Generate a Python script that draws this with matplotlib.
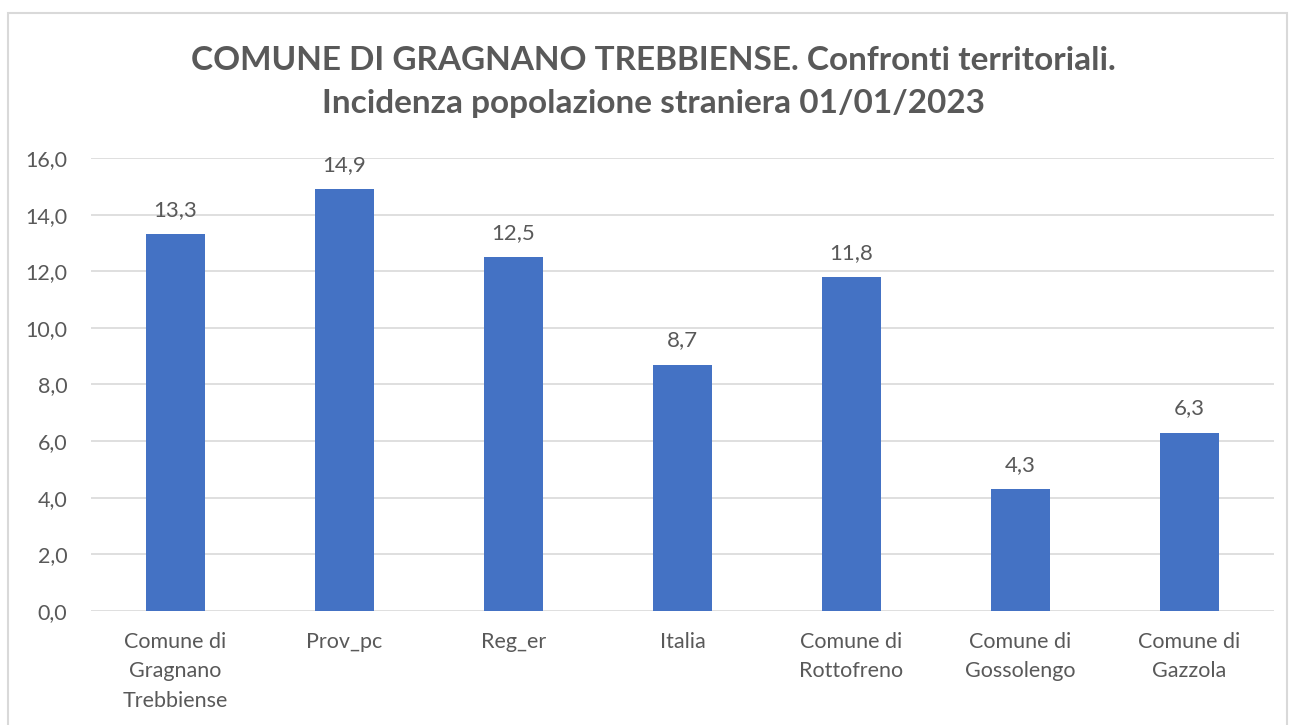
import numpy as np
import matplotlib.pyplot as plt
from matplotlib.patches import Rectangle

plt.rcParams['font.family'] = ['Lato', 'DejaVu Sans']

# dati
categorie = ["Comune di\nGragnano\nTrebbiense", "Prov_pc", "Reg_er", "Italia",
             "Comune di\nRottofreno", "Comune di\nGossolengo", "Comune di\nGazzola"]
valori = [13.3, 14.9, 12.5, 8.7, 11.8, 4.3, 6.3]
y_ticks = [0, 2, 4, 6, 8, 10, 12, 14, 16]

grigio = "#595959"
blu = "#4472c4"

fig = plt.figure(figsize=(12.9, 7.25), dpi=100)
ax = fig.add_axes([91 / 1290, 1 - 611 / 725, (1274 - 91) / 1290, (611 - 158) / 725])

x = np.arange(len(categorie))
ax.bar(x, valori, width=0.355, color=blu, zorder=3)
for xi, v in zip(x, valori):
    ax.text(xi, v + 0.5, f"{v:.1f}".replace(".", ","), ha="center", va="bottom",
            fontsize=16, color=grigio)

ax.set_xlim(-0.5, len(categorie) - 0.5)
ax.set_ylim(0, 16)
ax.set_yticks(y_ticks)
ax.set_yticklabels([f"{t:.1f}".replace(".", ",") for t in y_ticks], fontsize=15.5, color=grigio)
ax.set_xticks(x)
ax.set_xticklabels(categorie, fontsize=15.5, color=grigio, linespacing=1.6)
ax.tick_params(axis="both", length=0)
ax.tick_params(axis="y", pad=17)
ax.tick_params(axis="x", pad=15)
ax.grid(axis="y", color="#d9d9d9", linewidth=1.2, zorder=0)
for s in ax.spines.values():
    s.set_visible(False)

fig.text(653 / 1290, 1 - 60 / 725, "COMUNE DI GRAGNANO TREBBIENSE. Confronti territoriali.",
         ha="center", va="center", fontsize=24, fontweight="bold", color=grigio)
fig.text(653 / 1290, 1 - 103 / 725, "Incidenza popolazione straniera 01/01/2023",
         ha="center", va="center", fontsize=24, fontweight="bold", color=grigio)

fig.patches.append(Rectangle((8 / 1290, -0.05), (1287 - 8) / 1290, 1.05 - 13 / 725,
                             transform=fig.transFigure, fill=False,
                             edgecolor="#d9d9d9", linewidth=1.5))

fig.savefig("out.png", dpi=100)
